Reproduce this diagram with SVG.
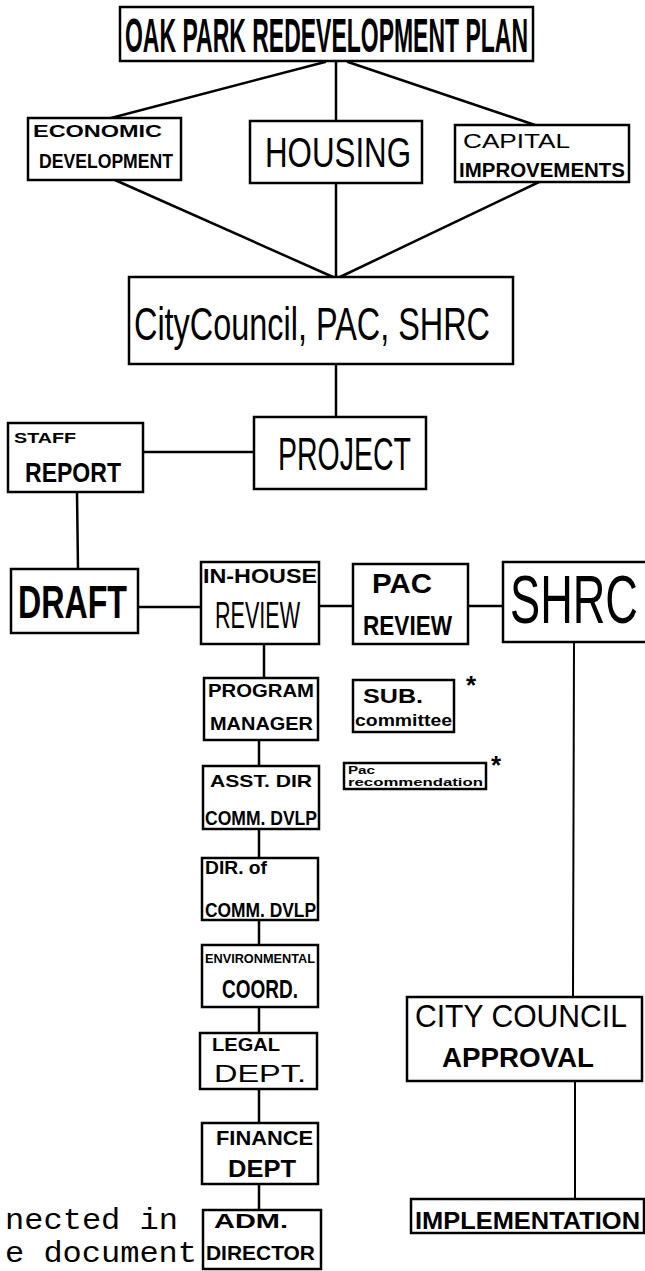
<svg xmlns="http://www.w3.org/2000/svg" width="645" height="1271" viewBox="0 0 645 1271">
<style>
.box{fill:#fff;stroke:#000;stroke-width:2.5}
.ln{stroke:#000;stroke-width:2.5;fill:none;stroke-linecap:round}
.thin{stroke-width:2}
.t{font-family:"Liberation Sans",Arial,sans-serif;fill:#000}
.b{font-weight:bold}
.m{font-family:"Liberation Mono","Courier New",monospace;fill:#000}
</style>
<rect width="645" height="1271" fill="#fff"/>
<g id="connectors">
<line class="ln" x1="325" y1="62" x2="111" y2="118"/>
<line class="ln" x1="336" y1="62" x2="336" y2="121"/>
<line class="ln" x1="348" y1="62" x2="535" y2="125"/>
<line class="ln" x1="115" y1="180" x2="333" y2="277"/>
<line class="ln" x1="336" y1="183" x2="336" y2="277"/>
<line class="ln" x1="539" y1="182" x2="340" y2="277"/>
<line class="ln" x1="336" y1="364" x2="336" y2="417"/>
<line class="ln" x1="143" y1="452" x2="254" y2="452"/>
<line class="ln" x1="77" y1="492" x2="78" y2="569"/>
<line class="ln" x1="138" y1="607" x2="201" y2="607"/>
<line class="ln" x1="319" y1="606" x2="353" y2="606"/>
<line class="ln" x1="468" y1="606" x2="503" y2="606"/>
<line class="ln" x1="264" y1="644" x2="264" y2="678"/>
<line class="ln" x1="259" y1="740" x2="259" y2="766"/>
<line class="ln" x1="259" y1="829" x2="259" y2="858"/>
<line class="ln" x1="259" y1="920" x2="259" y2="945"/>
<line class="ln" x1="259" y1="1007" x2="259" y2="1033"/>
<line class="ln" x1="259" y1="1089" x2="259" y2="1123"/>
<line class="ln" x1="259" y1="1184" x2="259" y2="1210"/>
<line class="ln thin" x1="574" y1="642" x2="573" y2="997"/>
<line class="ln thin" x1="575" y1="1081" x2="575" y2="1199"/>
</g>
<g id="plan">
<rect class="box" x="120" y="7" width="413" height="54"/>
<text class="t b" x="125" y="52" font-size="48" textLength="403" lengthAdjust="spacingAndGlyphs">OAK PARK REDEVELOPMENT PLAN</text>
</g>
<g id="economic">
<rect class="box" x="28" y="118" width="153" height="62"/>
<text class="t b" x="33" y="137" font-size="17" textLength="129" lengthAdjust="spacingAndGlyphs">ECONOMIC</text>
<text class="t b" x="39" y="168" font-size="20" textLength="134" lengthAdjust="spacingAndGlyphs">DEVELOPMENT</text>
</g>
<g id="housing">
<rect class="box" x="250" y="121" width="172" height="62"/>
<text class="t" x="265" y="167" font-size="42" textLength="146" lengthAdjust="spacingAndGlyphs">HOUSING</text>
</g>
<g id="capital">
<rect class="box" x="455" y="125" width="174" height="57"/>
<text class="t" x="463" y="148" font-size="21" textLength="107" lengthAdjust="spacingAndGlyphs">CAPITAL</text>
<text class="t b" x="459" y="177" font-size="20" textLength="166" lengthAdjust="spacingAndGlyphs">IMPROVEMENTS</text>
</g>
<g id="council">
<rect class="box" x="129" y="277" width="384" height="87"/>
<text class="t" x="134" y="340" font-size="46" textLength="356" lengthAdjust="spacingAndGlyphs">CityCouncil, PAC, SHRC</text>
</g>
<g id="project">
<rect class="box" x="254" y="417" width="172" height="72"/>
<text class="t" x="278" y="470" font-size="46" textLength="133" lengthAdjust="spacingAndGlyphs">PROJECT</text>
</g>
<g id="staff">
<rect class="box" x="8" y="423" width="135" height="69"/>
<text class="t b" x="14" y="443" font-size="14" textLength="62" lengthAdjust="spacingAndGlyphs">STAFF</text>
<text class="t b" x="25" y="482" font-size="28" textLength="96" lengthAdjust="spacingAndGlyphs">REPORT</text>
</g>
<g id="draft">
<rect class="box" x="11" y="569" width="127" height="64"/>
<text class="t b" x="18" y="618" font-size="46" textLength="109" lengthAdjust="spacingAndGlyphs">DRAFT</text>
</g>
<g id="inhouse">
<rect class="box" x="201" y="562" width="118" height="82"/>
<text class="t b" x="203" y="583" font-size="21" textLength="114" lengthAdjust="spacingAndGlyphs">IN-HOUSE</text>
<text class="t" x="215" y="628" font-size="36" textLength="85" lengthAdjust="spacingAndGlyphs">REVIEW</text>
</g>
<g id="pacreview">
<rect class="box" x="353" y="564" width="115" height="80"/>
<text class="t b" x="372" y="593" font-size="28" textLength="60" lengthAdjust="spacingAndGlyphs">PAC</text>
<text class="t b" x="363" y="635" font-size="28" textLength="89" lengthAdjust="spacingAndGlyphs">REVIEW</text>
</g>
<g id="shrc">
<rect class="box" x="503" y="562" width="150" height="80"/>
<text class="t" x="510" y="623" font-size="68" textLength="128" lengthAdjust="spacingAndGlyphs">SHRC</text>
</g>
<g id="program">
<rect class="box" x="204" y="678" width="114" height="62"/>
<text class="t b" x="208" y="697" font-size="19" textLength="106" lengthAdjust="spacingAndGlyphs">PROGRAM</text>
<text class="t b" x="210" y="730" font-size="18" textLength="103" lengthAdjust="spacingAndGlyphs">MANAGER</text>
</g>
<g id="asstdir">
<rect class="box" x="203" y="766" width="116" height="63"/>
<text class="t b" x="210" y="787" font-size="17" textLength="102" lengthAdjust="spacingAndGlyphs">ASST. DIR</text>
<text class="t b" x="205" y="825" font-size="20" textLength="112" lengthAdjust="spacingAndGlyphs">COMM. DVLP</text>
</g>
<g id="dir">
<rect class="box" x="202" y="858" width="116" height="62"/>
<text class="t b" x="205" y="874" font-size="18" textLength="62" lengthAdjust="spacingAndGlyphs">DIR. of</text>
<text class="t b" x="205" y="917" font-size="20" textLength="111" lengthAdjust="spacingAndGlyphs">COMM. DVLP</text>
</g>
<g id="environ">
<rect class="box" x="202" y="945" width="116" height="62"/>
<text class="t b" x="205" y="963" font-size="13" textLength="110" lengthAdjust="spacingAndGlyphs">ENVIRONMENTAL</text>
<text class="t b" x="222" y="998" font-size="25" textLength="76" lengthAdjust="spacingAndGlyphs">COORD.</text>
</g>
<g id="legal">
<rect class="box" x="200" y="1033" width="117" height="56"/>
<text class="t b" x="212" y="1051" font-size="18" textLength="68" lengthAdjust="spacingAndGlyphs">LEGAL</text>
<text class="t" x="214" y="1082" font-size="24" textLength="92" lengthAdjust="spacingAndGlyphs">DEPT.</text>
</g>
<g id="finance">
<rect class="box" x="202" y="1123" width="116" height="61"/>
<text class="t b" x="216" y="1145" font-size="21" textLength="97" lengthAdjust="spacingAndGlyphs">FINANCE</text>
<text class="t b" x="228" y="1177" font-size="23" textLength="68" lengthAdjust="spacingAndGlyphs">DEPT</text>
</g>
<g id="adm">
<rect class="box" x="203" y="1210" width="118" height="59"/>
<text class="t b" x="214" y="1228" font-size="21" textLength="74" lengthAdjust="spacingAndGlyphs">ADM.</text>
<text class="t b" x="206" y="1260" font-size="20" textLength="109" lengthAdjust="spacingAndGlyphs">DIRECTOR</text>
</g>
<g id="subcommittee">
<rect class="box" x="353" y="680" width="101" height="52"/>
<text class="t b" x="363" y="703" font-size="20" textLength="60" lengthAdjust="spacingAndGlyphs">SUB.</text>
<text class="t b" x="355" y="726" font-size="17" textLength="97" lengthAdjust="spacingAndGlyphs">committee</text>
<text class="t b" x="466" y="694" font-size="26">*</text>
</g>
<g id="pacrec">
<rect class="box" x="344" y="763" width="142" height="26"/>
<text class="t b" x="348" y="774" font-size="10" textLength="27" lengthAdjust="spacingAndGlyphs">Pac</text>
<text class="t b" x="348" y="786" font-size="11" textLength="135" lengthAdjust="spacingAndGlyphs">recommendation</text>
<text class="t b" x="491" y="774" font-size="26">*</text>
</g>
<g id="approval">
<rect class="box" x="407" y="997" width="235" height="84"/>
<text class="t" x="415" y="1027" font-size="31" textLength="212" lengthAdjust="spacingAndGlyphs">CITY COUNCIL</text>
<text class="t b" x="442" y="1067" font-size="27" textLength="152" lengthAdjust="spacingAndGlyphs">APPROVAL</text>
</g>
<g id="implementation">
<rect class="box" x="411" y="1199" width="233" height="34"/>
<text class="t b" x="415" y="1229" font-size="23" textLength="225" lengthAdjust="spacingAndGlyphs">IMPLEMENTATION</text>
</g>
<g id="note">
<text class="m" x="5" y="1229" font-size="29" textLength="173" lengthAdjust="spacingAndGlyphs">nected in</text>
<text class="m" x="5" y="1262" font-size="29" textLength="192" lengthAdjust="spacingAndGlyphs">e document</text>
</g>
</svg>
